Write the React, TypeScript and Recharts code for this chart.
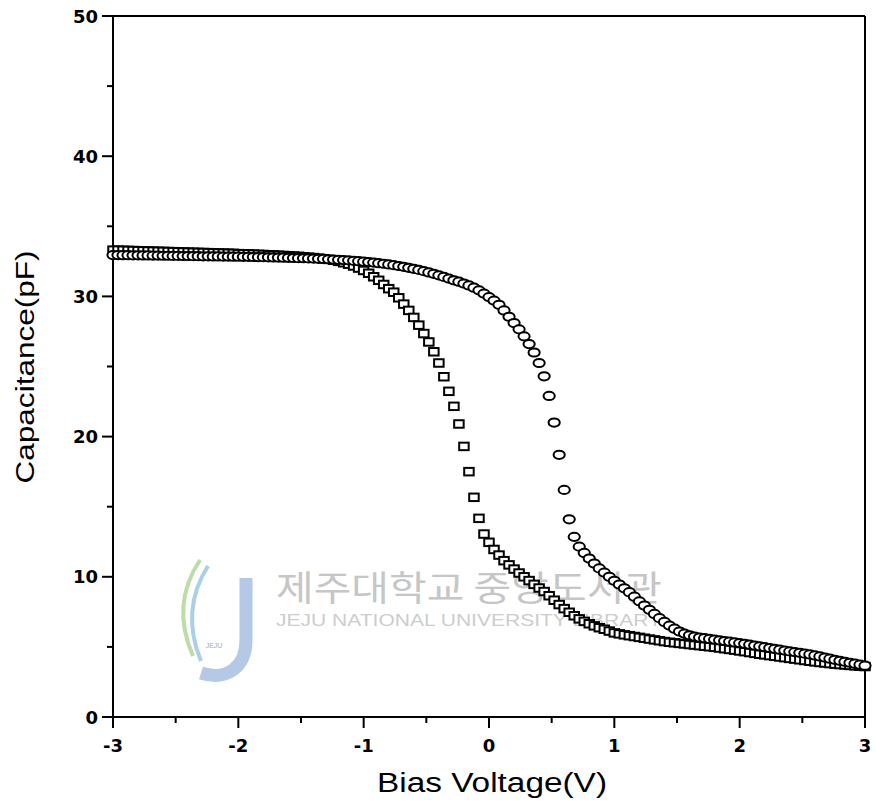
import React from 'react';
import { ScatterChart, Scatter, XAxis, YAxis, ReferenceLine } from 'recharts';

// bias sweep, 0.04 V step
const voltages = [
  -3, -2.96, -2.92, -2.88, -2.84, -2.8, -2.76, -2.72, -2.68, -2.64,
  -2.6, -2.56, -2.52, -2.48, -2.44, -2.4, -2.36, -2.32, -2.28, -2.24,
  -2.2, -2.16, -2.12, -2.08, -2.04, -2, -1.96, -1.92, -1.88, -1.84,
  -1.8, -1.76, -1.72, -1.68, -1.64, -1.6, -1.56, -1.52, -1.48, -1.44,
  -1.4, -1.36, -1.32, -1.28, -1.24, -1.2, -1.16, -1.12, -1.08, -1.04,
  -1, -0.96, -0.92, -0.88, -0.84, -0.8, -0.76, -0.72, -0.68, -0.64,
  -0.6, -0.56, -0.52, -0.48, -0.44, -0.4, -0.36, -0.32, -0.28, -0.24,
  -0.2, -0.16, -0.12, -0.08, -0.04, 0, 0.04, 0.08, 0.12, 0.16,
  0.2, 0.24, 0.28, 0.32, 0.36, 0.4, 0.44, 0.48, 0.52, 0.56,
  0.6, 0.64, 0.68, 0.72, 0.76, 0.8, 0.84, 0.88, 0.92, 0.96,
  1, 1.04, 1.08, 1.12, 1.16, 1.2, 1.24, 1.28, 1.32, 1.36,
  1.4, 1.44, 1.48, 1.52, 1.56, 1.6, 1.64, 1.68, 1.72, 1.76,
  1.8, 1.84, 1.88, 1.92, 1.96, 2, 2.04, 2.08, 2.12, 2.16,
  2.2, 2.24, 2.28, 2.32, 2.36, 2.4, 2.44, 2.48, 2.52, 2.56,
  2.6, 2.64, 2.68, 2.72, 2.76, 2.8, 2.84, 2.88, 2.92, 2.96,
  3,
];

// square markers (pF)
const squareC = [
  33.30, 33.30, 33.29, 33.28, 33.27, 33.26, 33.25, 33.24, 33.23, 33.22,
  33.21, 33.20, 33.19, 33.18, 33.17, 33.16, 33.15, 33.14, 33.13, 33.12,
  33.11, 33.10, 33.09, 33.08, 33.07, 33.05, 33.04, 33.03, 33.02, 33.00,
  32.99, 32.97, 32.96, 32.94, 32.92, 32.90, 32.88, 32.86, 32.83, 32.80,
  32.77, 32.73, 32.69, 32.64, 32.58, 32.50, 32.40, 32.30, 32.17, 32.02,
  31.85, 31.65, 31.40, 31.15, 30.85, 30.55, 30.30, 29.90, 29.45, 29.00,
  28.50, 27.95, 27.35, 26.75, 26.05, 25.25, 24.27, 23.23, 22.16, 20.90,
  19.30, 17.50, 15.67, 14.17, 13.05, 12.46, 11.95, 11.55, 11.15, 10.85,
  10.55, 10.27, 10.00, 9.73, 9.46, 9.20, 8.95, 8.65, 8.33, 8.02,
  7.73, 7.47, 7.22, 7.00, 6.82, 6.65, 6.50, 6.37, 6.26, 6.13,
  6.00, 5.93, 5.86, 5.80, 5.74, 5.68, 5.62, 5.56, 5.50, 5.44,
  5.38, 5.33, 5.29, 5.25, 5.21, 5.17, 5.13, 5.09, 5.05, 5.01,
  4.97, 4.92, 4.87, 4.82, 4.77, 4.71, 4.66, 4.60, 4.54, 4.48,
  4.43, 4.38, 4.33, 4.28, 4.23, 4.18, 4.13, 4.08, 4.03, 3.98,
  3.93, 3.89, 3.85, 3.81, 3.77, 3.74, 3.71, 3.68, 3.65, 3.62,
  3.60,
];

// circle markers (pF)
const circleC = [
  32.95, 32.95, 32.94, 32.94, 32.93, 32.93, 32.92, 32.92, 32.91, 32.91,
  32.90, 32.90, 32.89, 32.89, 32.88, 32.88, 32.87, 32.87, 32.86, 32.86,
  32.85, 32.85, 32.84, 32.84, 32.83, 32.83, 32.82, 32.82, 32.81, 32.80,
  32.80, 32.79, 32.78, 32.77, 32.76, 32.75, 32.74, 32.73, 32.72, 32.71,
  32.70, 32.68, 32.67, 32.65, 32.63, 32.61, 32.59, 32.57, 32.54, 32.51,
  32.48, 32.45, 32.41, 32.37, 32.33, 32.28, 32.23, 32.17, 32.11, 32.04,
  31.97, 31.89, 31.80, 31.71, 31.61, 31.50, 31.39, 31.27, 31.15, 31.05,
  30.92, 30.78, 30.62, 30.43, 30.20, 29.95, 29.70, 29.40, 29.00, 28.55,
  28.10, 27.65, 27.15, 26.60, 26.00, 25.25, 24.30, 22.90, 21.00, 18.70,
  16.20, 14.10, 12.85, 12.15, 11.70, 11.30, 10.95, 10.60, 10.30, 10.00,
  9.72, 9.45, 9.18, 8.90, 8.58, 8.25, 7.95, 7.65, 7.35, 7.05,
  6.78, 6.52, 6.30, 6.10, 5.95, 5.83, 5.74, 5.67, 5.62, 5.57,
  5.52, 5.47, 5.42, 5.37, 5.32, 5.27, 5.22, 5.16, 5.10, 5.04,
  4.98, 4.92, 4.86, 4.80, 4.74, 4.68, 4.63, 4.58, 4.52, 4.46,
  4.39, 4.32, 4.24, 4.16, 4.08, 4.01, 3.94, 3.87, 3.80, 3.73,
  3.66,
];

const xTicks = [-3, -2.5, -2, -1.5, -1, -0.5, 0, 0.5, 1, 1.5, 2, 2.5, 3];
const yTicks = [0, 5, 10, 15, 20, 25, 30, 35, 40, 45, 50];

const PLOT_LEFT = 113;
const PLOT_BOTTOM = 717;
const tickFont = { fontFamily: 'DejaVu Sans', fontWeight: 700, fontSize: 18 };

const XTick = (props: any) => {
  const { x, payload } = props;
  const major = Number.isInteger(payload.value);
  return (
    <g>
      <line x1={x} x2={x} y1={PLOT_BOTTOM} y2={PLOT_BOTTOM + (major ? 11 : 6)} stroke="#000" strokeWidth={2} />
      {major && (
        <text x={x} y={752} textAnchor="middle" fill="#000" {...tickFont}>
          {payload.value}
        </text>
      )}
    </g>
  );
};

const YTick = (props: any) => {
  const { y, payload } = props;
  const major = payload.value % 10 === 0;
  return (
    <g>
      <line x1={PLOT_LEFT - (major ? 11 : 6)} x2={PLOT_LEFT} y1={y} y2={y} stroke="#000" strokeWidth={2} />
      {major && (
        <text x={98} y={y + 6.5} textAnchor="end" fill="#000" {...tickFont}>
          {payload.value}
        </text>
      )}
    </g>
  );
};

const Square = (p: any) => (
  <rect x={p.cx - 4.75} y={p.cy - 3.75} width={9.5} height={7.5} fill="#fff" stroke="#000" strokeWidth={2} />
);

const Circle = (p: any) => (
  <ellipse cx={p.cx} cy={p.cy} rx={5.6} ry={4.1} fill="#fff" stroke="#000" strokeWidth={2} />
);

export default function App() {
  const squares = voltages.map((v, i) => ({ v, c: squareC[i] }));
  const circles = voltages.map((v, i) => ({ v, c: circleC[i] }));

  return (
    <div style={{ position: 'absolute', left: 0, top: 0, width: 876, height: 809, background: '#fff' }}>
      {/* watermark + axis titles */}
      <svg width={876} height={809} style={{ position: 'absolute', left: 0, top: 0 }}>
        <path d="M200 560 C180 590 178 622 193 656" stroke="#bcdca8" strokeWidth={4} fill="none" />
        <path d="M208 566 C189 596 187 627 201 661" stroke="#a9d0e8" strokeWidth={4} fill="none" />
        <path d="M246 578 L246 640 C246 668 226 681 201 673" stroke="#b3c9e6" strokeWidth={13} fill="none" />
        <text x={214} y={648} fontSize={7} fill="#aaa" fontFamily="Liberation Sans" textAnchor="middle">JEJU</text>
        <text x={276} y={601} fontSize={35} fill="#c6c6c6" fontFamily="Noto Sans CJK KR" textLength={386} lengthAdjust="spacingAndGlyphs">
          제주대학교 중앙도서관
        </text>
        <text x={276} y={626} fontSize={17} fill="#cdcdcd" fontFamily="Liberation Sans" textLength={386} lengthAdjust="spacingAndGlyphs">
          JEJU NATIONAL UNIVERSITY  LIBRARY
        </text>
        <text x={492} y={792} textAnchor="middle" fontSize={27} fontFamily="Liberation Sans" fill="#000" textLength={230} lengthAdjust="spacingAndGlyphs">
          Bias Voltage(V)
        </text>
        <text transform="translate(34,367) rotate(-90)" textAnchor="middle" fontSize={25} fontFamily="Liberation Sans" fill="#000" textLength={233} lengthAdjust="spacingAndGlyphs">
          Capacitance(pF)
        </text>
      </svg>
      <div style={{ position: 'absolute', left: 0, top: 0 }}>
        <ScatterChart width={876} height={809} margin={{ top: 16, right: 11, bottom: 0, left: 0 }}>
          <XAxis
            type="number"
            dataKey="v"
            domain={[-3, 3]}
            ticks={xTicks}
            interval={0}
            height={92}
            axisLine={{ stroke: '#000', strokeWidth: 2 }}
            tickLine={false}
            tick={(p: any) => <XTick {...p} />}
          />
          <YAxis
            type="number"
            dataKey="c"
            domain={[0, 50]}
            ticks={yTicks}
            interval={0}
            width={113}
            axisLine={{ stroke: '#000', strokeWidth: 2 }}
            tickLine={false}
            tick={(p: any) => <YTick {...p} />}
          />
          <ReferenceLine y={50} stroke="#000" strokeWidth={2} />
          <ReferenceLine x={3} stroke="#000" strokeWidth={2} />
          <Scatter data={squares} shape={Square} isAnimationActive={false} />
          <Scatter data={circles} shape={Circle} isAnimationActive={false} />
        </ScatterChart>
      </div>
    </div>
  );
}
